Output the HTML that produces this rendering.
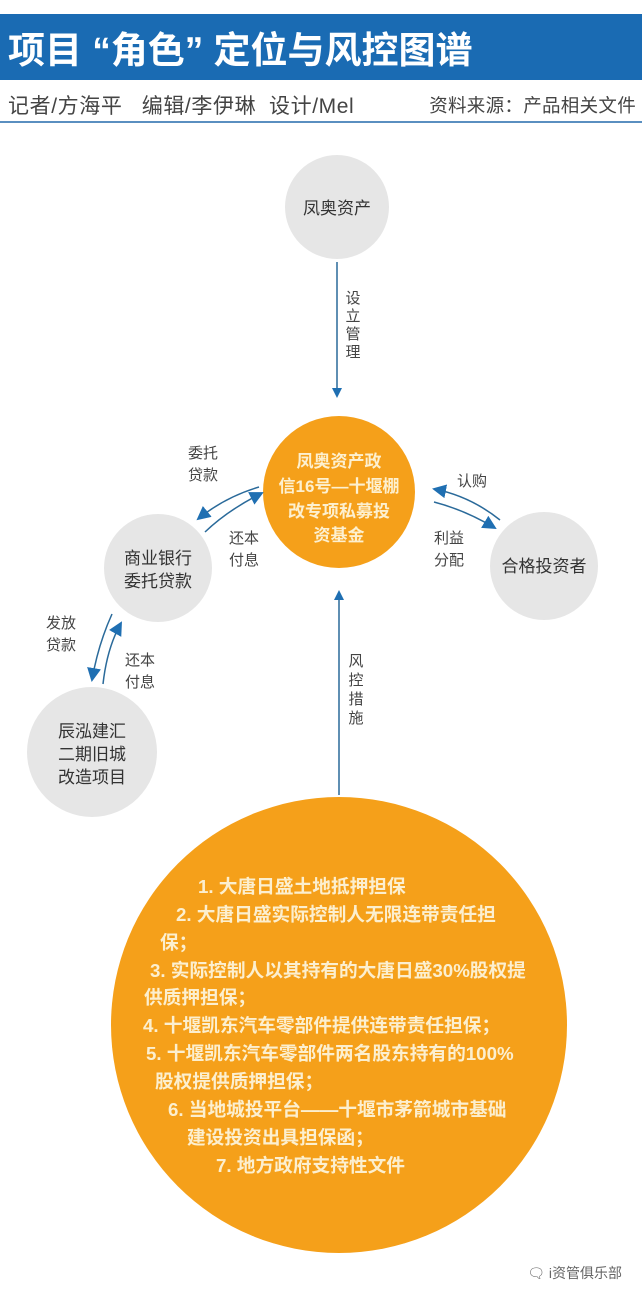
<!DOCTYPE html>
<html><head><meta charset="utf-8"><style>
html,body{margin:0;padding:0;background:#fff;}
body{width:642px;height:1300px;position:relative;overflow:hidden;font-family:"Liberation Sans","Noto Sans CJK SC",sans-serif;}
svg{position:absolute;left:0;top:0;}
</style></head><body>
<svg width="642" height="1300" viewBox="0 0 642 1300" xmlns="http://www.w3.org/2000/svg" font-family="Liberation Sans, Noto Sans CJK SC, sans-serif">
<defs>
<marker id="ah" markerWidth="10" markerHeight="10" refX="8" refY="5" orient="auto" markerUnits="userSpaceOnUse"><path d="M0,0 L10,5 L0,10 z" fill="#1f6fb2"/></marker>
<marker id="ah2" markerWidth="14" markerHeight="14" refX="12" refY="7" orient="auto" markerUnits="userSpaceOnUse"><path d="M0,0 L14,7 L0,14 z" fill="#1f6fb2"/></marker>
</defs>
<rect x="0" y="14" width="642" height="66" fill="#1a6bb3"/>
<text x="8" y="63" font-size="37" font-weight="bold" fill="#fff">项目 “角色” 定位与风控图谱</text>
<text x="8" y="113" font-size="21" fill="#444" letter-spacing="0.6" xml:space="preserve">记者/方海平   编辑/李伊琳  设计/Mel</text>
<text x="636" y="112" font-size="18.5" fill="#444" text-anchor="end" letter-spacing="0.3">资料来源：产品相关文件</text>
<line x1="0" y1="122" x2="642" y2="122" stroke="#5a8fc0" stroke-width="2"/>

<circle cx="337" cy="207" r="52" fill="#e6e6e6"/>
<text x="337" y="214" font-size="17" fill="#333" text-anchor="middle">凤奥资产</text>
<line x1="337" y1="262" x2="337" y2="396" stroke="#2a6a9a" stroke-width="1.5" marker-end="url(#ah)"/>
<g font-size="15" fill="#444" text-anchor="middle"><text x="353" y="303">设</text><text x="353" y="321">立</text><text x="353" y="339">管</text><text x="353" y="357">理</text></g>

<circle cx="339" cy="492" r="76" fill="#f5a01a"/>
<g font-size="17" font-weight="bold" fill="#fdf0cf" text-anchor="middle"><text x="339" y="467">凤奥资产政</text><text x="339" y="492">信16号—十堰棚</text><text x="339" y="517">改专项私募投</text><text x="339" y="541">资基金</text></g>

<circle cx="158" cy="568" r="54" fill="#e6e6e6"/>
<g font-size="17" fill="#333" text-anchor="middle"><text x="158" y="564">商业银行</text><text x="158" y="587">委托贷款</text></g>

<circle cx="544" cy="566" r="54" fill="#e6e6e6"/>
<text x="544" y="572" font-size="17" fill="#333" text-anchor="middle">合格投资者</text>

<circle cx="92" cy="752" r="65" fill="#e6e6e6"/>
<g font-size="17" fill="#333" text-anchor="middle"><text x="92" y="737">辰泓建汇</text><text x="92" y="760">二期旧城</text><text x="92" y="783">改造项目</text></g>

<circle cx="339" cy="1025" r="228" fill="#f5a01a"/>
<line x1="339" y1="795" x2="339" y2="592" stroke="#2a6a9a" stroke-width="1.5" marker-end="url(#ah)"/>
<g font-size="15" fill="#444" text-anchor="middle"><text x="356" y="666">风</text><text x="356" y="685">控</text><text x="356" y="704">措</text><text x="356" y="723">施</text></g>

<path d="M259,487 Q225,497 198,519" fill="none" stroke="#2a6a9a" stroke-width="1.5" marker-end="url(#ah2)"/>
<path d="M205,532 Q228,510 262,493" fill="none" stroke="#2a6a9a" stroke-width="1.5" marker-end="url(#ah2)"/>
<g font-size="15" fill="#444"><text x="188" y="458">委托</text><text x="188" y="480">贷款</text><text x="229" y="543">还本</text><text x="229" y="565">付息</text></g>
<path d="M500,520 Q470,496 434,489" fill="none" stroke="#2a6a9a" stroke-width="1.5" marker-end="url(#ah2)"/>
<path d="M434,502 Q465,510 495,528" fill="none" stroke="#2a6a9a" stroke-width="1.5" marker-end="url(#ah2)"/>
<g font-size="15" fill="#444"><text x="457" y="486">认购</text><text x="434" y="543">利益</text><text x="434" y="565">分配</text></g>
<path d="M112,614 Q98,645 92,680" fill="none" stroke="#2a6a9a" stroke-width="1.5" marker-end="url(#ah2)"/>
<path d="M103,684 Q107,648 121,623" fill="none" stroke="#2a6a9a" stroke-width="1.5" marker-end="url(#ah2)"/>
<g font-size="15" fill="#444"><text x="46" y="628">发放</text><text x="46" y="650">贷款</text><text x="125" y="665">还本</text><text x="125" y="687">付息</text></g>

<g font-size="18.7" font-weight="bold" fill="#fcefcf">
<text x="198" y="893">1. 大唐日盛土地抵押担保</text>
<text x="176" y="921">2. 大唐日盛实际控制人无限连带责任担</text>
<text x="160" y="949">保；</text>
<text x="150" y="977">3. 实际控制人以其持有的大唐日盛30%股权提</text>
<text x="144" y="1004">供质押担保；</text>
<text x="143" y="1032">4. 十堰凯东汽车零部件提供连带责任担保；</text>
<text x="146" y="1060">5. 十堰凯东汽车零部件两名股东持有的100%</text>
<text x="155" y="1088">股权提供质押担保；</text>
<text x="168" y="1116">6. 当地城投平台——十堰市茅箭城市基础</text>
<text x="187" y="1144">建设投资出具担保函；</text>
<text x="216" y="1172">7. 地方政府支持性文件</text>
</g>
<text x="622" y="1278" font-size="14" fill="#666" text-anchor="end">🗨 i资管俱乐部</text>
</svg>
</body></html>
